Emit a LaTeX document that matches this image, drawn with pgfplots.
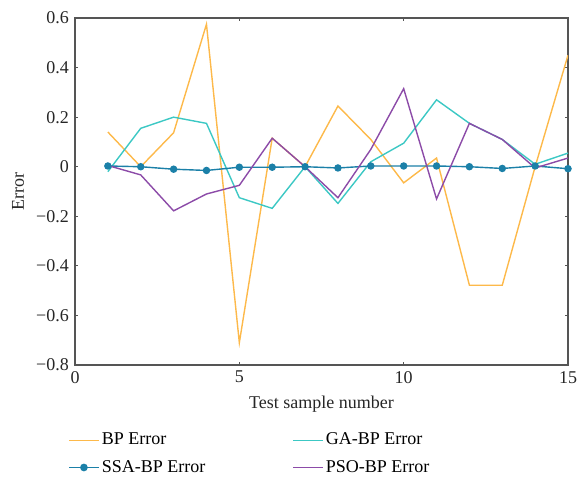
\documentclass[border=0pt]{standalone}
\usepackage{pgfplots}
\pgfplotsset{compat=1.18}
\usepackage{fontspec}
\setmainfont{Liberation Serif}
\definecolor{cBP}{HTML}{FDB94A}
\definecolor{cGA}{HTML}{3CC8C4}
\definecolor{cSSA}{HTML}{1B80A8}
\definecolor{cPSO}{HTML}{8C4BA8}
\definecolor{axgray}{HTML}{555555}
\begin{document}
\fontsize{18}{21}\selectfont
\begin{tikzpicture}
\begin{axis}[
  at={(75pt,-365pt)}, anchor=south west,
  scale only axis, width=493pt, height=347pt,
  xmin=0, xmax=15, ymin=-0.8, ymax=0.6,
  xtick={0,5,10,15},
  ytick={-0.8,-0.6,-0.4,-0.2,0,0.2,0.4,0.6},
  yticklabels={−0.8,−0.6,−0.4,−0.2,0,0.2,0.4,0.6},
  tick align=inside, major tick length=3pt,
  axis line style={axgray, line width=1.2pt},
  every tick/.style={axgray, line width=1pt},
  tick label style={font=\fontsize{18}{21}\selectfont, text=black!85},
  /pgf/number format/assume math mode=true,
  label style={font=\fontsize{18}{21}\selectfont, text=black!85},
  xlabel={Test sample number},
  ylabel={Error},
  legend columns=2,
  legend cell align=left,
  legend style={draw=none, fill=none, at={(-0.02,-0.184)}, anchor=north west,
    font=\fontsize{18}{21}\selectfont,
    /tikz/every even column/.append style={column sep=85pt},
    row sep=8.5pt},
  legend image code/.code={%
    \draw[mark repeat=2,mark phase=2,#1] plot coordinates {(0cm,0cm) (0.52cm,0cm) (1.05cm,0cm)};},
  legend image post style={line width=1.6pt},
]
\addplot[color=cBP, line width=1.4pt, mark=none] coordinates {(1,0.14)(2,0.0)(3,0.137)(4,0.575)(5,-0.71)(6,0.115)(7,0.0)(8,0.245)(9,0.11)(10,-0.065)(11,0.035)(12,-0.478)(13,-0.478)(14,0.0)(15,0.45)};
\addlegendentry{BP Error}
\addplot[color=cGA, line width=1.4pt, mark=none] coordinates {(1,-0.02)(2,0.155)(3,0.2)(4,0.175)(5,-0.125)(6,-0.168)(7,0.0)(8,-0.148)(9,0.02)(10,0.095)(11,0.27)(12,0.175)(13,0.11)(14,0.01)(15,0.055)};
\addlegendentry{GA-BP Error}
\addplot[color=cSSA, line width=1.4pt, mark=*, mark size=3pt, mark options={fill=cSSA, draw=cSSA}] coordinates {(1,0.003)(2,0.0)(3,-0.01)(4,-0.015)(5,-0.002)(6,-0.002)(7,0.0)(8,-0.005)(9,0.003)(10,0.003)(11,0.003)(12,0.0)(13,-0.007)(14,0.003)(15,-0.008)};
\addlegendentry{SSA-BP Error}
\addplot[color=cPSO, line width=1.4pt, mark=none] coordinates {(1,0.005)(2,-0.033)(3,-0.178)(4,-0.11)(5,-0.075)(6,0.115)(7,0.0)(8,-0.125)(9,0.07)(10,0.315)(11,-0.13)(12,0.175)(13,0.11)(14,-0.005)(15,0.035)};
\addlegendentry{PSO-BP Error}
\end{axis}
\pgfresetboundingbox
\path (0,0) rectangle (577pt,-477pt);
\end{tikzpicture}
\end{document}
